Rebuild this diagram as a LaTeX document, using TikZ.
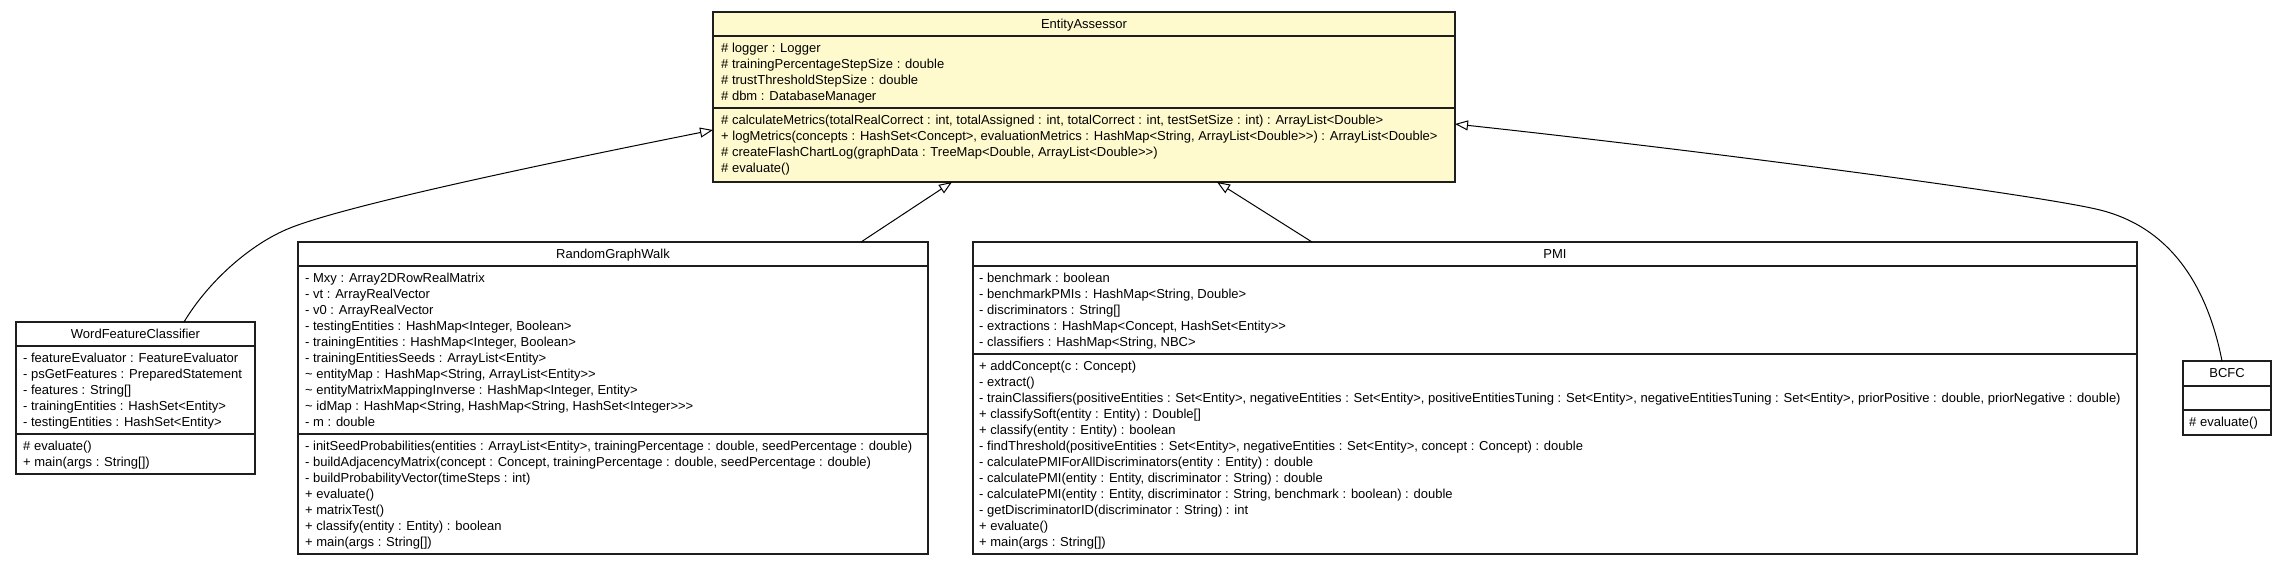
\documentclass[tikz,border=0pt]{standalone}
\usepackage{fontspec}
\setmainfont{Liberation Sans}
\usetikzlibrary{arrows.meta}
\definecolor{eafill}{RGB}{255,250,205}
\definecolor{boxline}{RGB}{30,30,30}
\newcommand\umlfont{\fontsize{13}{16}\selectfont}
\newcommand\umlrows[4]{\foreach \rowtext [count=\i] in {#4} {\node[row] (#1-\i) at (#2, {#3+16*(\i-1)}) {\rowtext};}}
\begin{document}
\begin{tikzpicture}[x=1pt, y=-1pt,
  box/.style={draw=boxline, line width=1.2pt, inner sep=0pt, outer sep=0pt, anchor=north west, fill=white},
  sepline/.style={draw=boxline, line width=1.2pt},
  row/.style={anchor=base west, inner sep=0pt, font=\umlfont},
  hdr/.style={anchor=base, inner sep=0pt, font=\umlfont},
  gen/.style={draw=black, line width=1pt, -{Triangle[open, length=13pt, width=10pt, line width=1pt]}}]
\useasboundingbox (0,0) rectangle (2285,565);

% EntityAssessor
\node[box, fill=eafill, minimum width=742pt, minimum height=170pt] (ea) at (713,12) {};
\draw[sepline] ([yshift=-24pt]ea.north west) -- ([yshift=-24pt]ea.north east);
\draw[sepline] ([yshift=-96pt]ea.north west) -- ([yshift=-96pt]ea.north east);
\node[hdr] (ea-h) at (1084,28.5) {EntityAssessor};
\umlrows{eaa}{721}{52}{{\# logger : Logger},{\# trainingPercentageStepSize : double},{\# trustThresholdStepSize : double},{\# dbm : DatabaseManager}}
\umlrows{eam}{721}{124}{{\# calculateMetrics(totalRealCorrect : int, totalAssigned : int, totalCorrect : int, testSetSize : int) : ArrayList<Double>},{+ logMetrics(concepts : HashSet<Concept>, evaluationMetrics : HashMap<String, ArrayList<Double>{}>) : ArrayList<Double>},{\# createFlashChartLog(graphData : TreeMap<Double, ArrayList<Double>{}>)},{\# evaluate()}}

% WordFeatureClassifier
\node[box, minimum width=239pt, minimum height=152pt] (wfc) at (16,322) {};
\draw[sepline] ([yshift=-24pt]wfc.north west) -- ([yshift=-24pt]wfc.north east);
\draw[sepline] ([yshift=-112pt]wfc.north west) -- ([yshift=-112pt]wfc.north east);
\node[hdr] (wfc-h) at (135.5,338.5) {WordFeatureClassifier};
\umlrows{wfca}{23}{362}{{- featureEvaluator : FeatureEvaluator},{- psGetFeatures : PreparedStatement},{- features : String[]},{- trainingEntities : HashSet<Entity>},{- testingEntities : HashSet<Entity>}}
\umlrows{wfcm}{23}{450}{{\# evaluate()},{+ main(args : String[])}}

% RandomGraphWalk
\node[box, minimum width=630pt, minimum height=312pt] (rgw) at (298,242) {};
\draw[sepline] ([yshift=-24pt]rgw.north west) -- ([yshift=-24pt]rgw.north east);
\draw[sepline] ([yshift=-192pt]rgw.north west) -- ([yshift=-192pt]rgw.north east);
\node[hdr] (rgw-h) at (613,258.5) {RandomGraphWalk};
\umlrows{rgwa}{305}{282}{{- Mxy : Array2DRowRealMatrix},{- vt : ArrayRealVector},{- v0 : ArrayRealVector},{- testingEntities : HashMap<Integer, Boolean>},{- trainingEntities : HashMap<Integer, Boolean>},{- trainingEntitiesSeeds : ArrayList<Entity>},{\textasciitilde\ entityMap : HashMap<String, ArrayList<Entity>{}>},{\textasciitilde\ entityMatrixMappingInverse : HashMap<Integer, Entity>},{\textasciitilde\ idMap : HashMap<String, HashMap<String, HashSet<Integer>{}>{}>},{- m : double}}
\umlrows{rgwm}{305}{450}{{- initSeedProbabilities(entities : ArrayList<Entity>, trainingPercentage : double, seedPercentage : double)},{- buildAdjacencyMatrix(concept : Concept, trainingPercentage : double, seedPercentage : double)},{- buildProbabilityVector(timeSteps : int)},{+ evaluate()},{+ matrixTest()},{+ classify(entity : Entity) : boolean},{+ main(args : String[])}}

% PMI
\node[box, minimum width=1164pt, minimum height=312pt] (pmi) at (973,242) {};
\draw[sepline] ([yshift=-24pt]pmi.north west) -- ([yshift=-24pt]pmi.north east);
\draw[sepline] ([yshift=-112pt]pmi.north west) -- ([yshift=-112pt]pmi.north east);
\node[hdr] (pmi-h) at (1555,258.5) {PMI};
\umlrows{pmia}{979}{282}{{- benchmark : boolean},{- benchmarkPMIs : HashMap<String, Double>},{- discriminators : String[]},{- extractions : HashMap<Concept, HashSet<Entity>{}>},{- classifiers : HashMap<String, NBC>}}
\umlrows{pmim}{979}{370}{{+ addConcept(c : Concept)},{- extract()},{- trainClassifiers(positiveEntities : Set<Entity>, negativeEntities : Set<Entity>, positiveEntitiesTuning : Set<Entity>, negativeEntitiesTuning : Set<Entity>, priorPositive : double, priorNegative : double)},{+ classifySoft(entity : Entity) : Double[]},{+ classify(entity : Entity) : boolean},{- findThreshold(positiveEntities : Set<Entity>, negativeEntities : Set<Entity>, concept : Concept) : double},{- calculatePMIForAllDiscriminators(entity : Entity) : double},{- calculatePMI(entity : Entity, discriminator : String) : double},{- calculatePMI(entity : Entity, discriminator : String, benchmark : boolean) : double},{- getDiscriminatorID(discriminator : String) : int},{+ evaluate()},{+ main(args : String[])}}

% BCFC
\node[box, minimum width=88pt, minimum height=74pt] (bcfc) at (2183,361) {};
\draw[sepline] ([yshift=-25pt]bcfc.north west) -- ([yshift=-25pt]bcfc.north east);
\draw[sepline] ([yshift=-49pt]bcfc.north west) -- ([yshift=-49pt]bcfc.north east);
\node[hdr] (bcfc-h) at (2227,377.5) {BCFC};
\umlrows{bcfcm}{2189}{426}{{\# evaluate()}}

% generalizations
\draw[gen] ([xshift=168pt]wfc.north west) .. controls (208,282) and (250,244) .. (290,228) .. controls (350,204) and (563,160) .. ([yshift=-118pt]ea.north west);
\draw[gen] ([xshift=563pt]rgw.north west) -- ([xshift=239pt]ea.south west);
\draw[gen] ([xshift=339pt]pmi.north west) -- ([xshift=504pt]ea.south west);
\draw[gen] ([xshift=-5pt]bcfc.north) .. controls (2207,285) and (2170,227.5) .. (2100,210) .. controls (2040,195) and (1705,151) .. ([yshift=-112pt]ea.north east);
\end{tikzpicture}
\end{document}
